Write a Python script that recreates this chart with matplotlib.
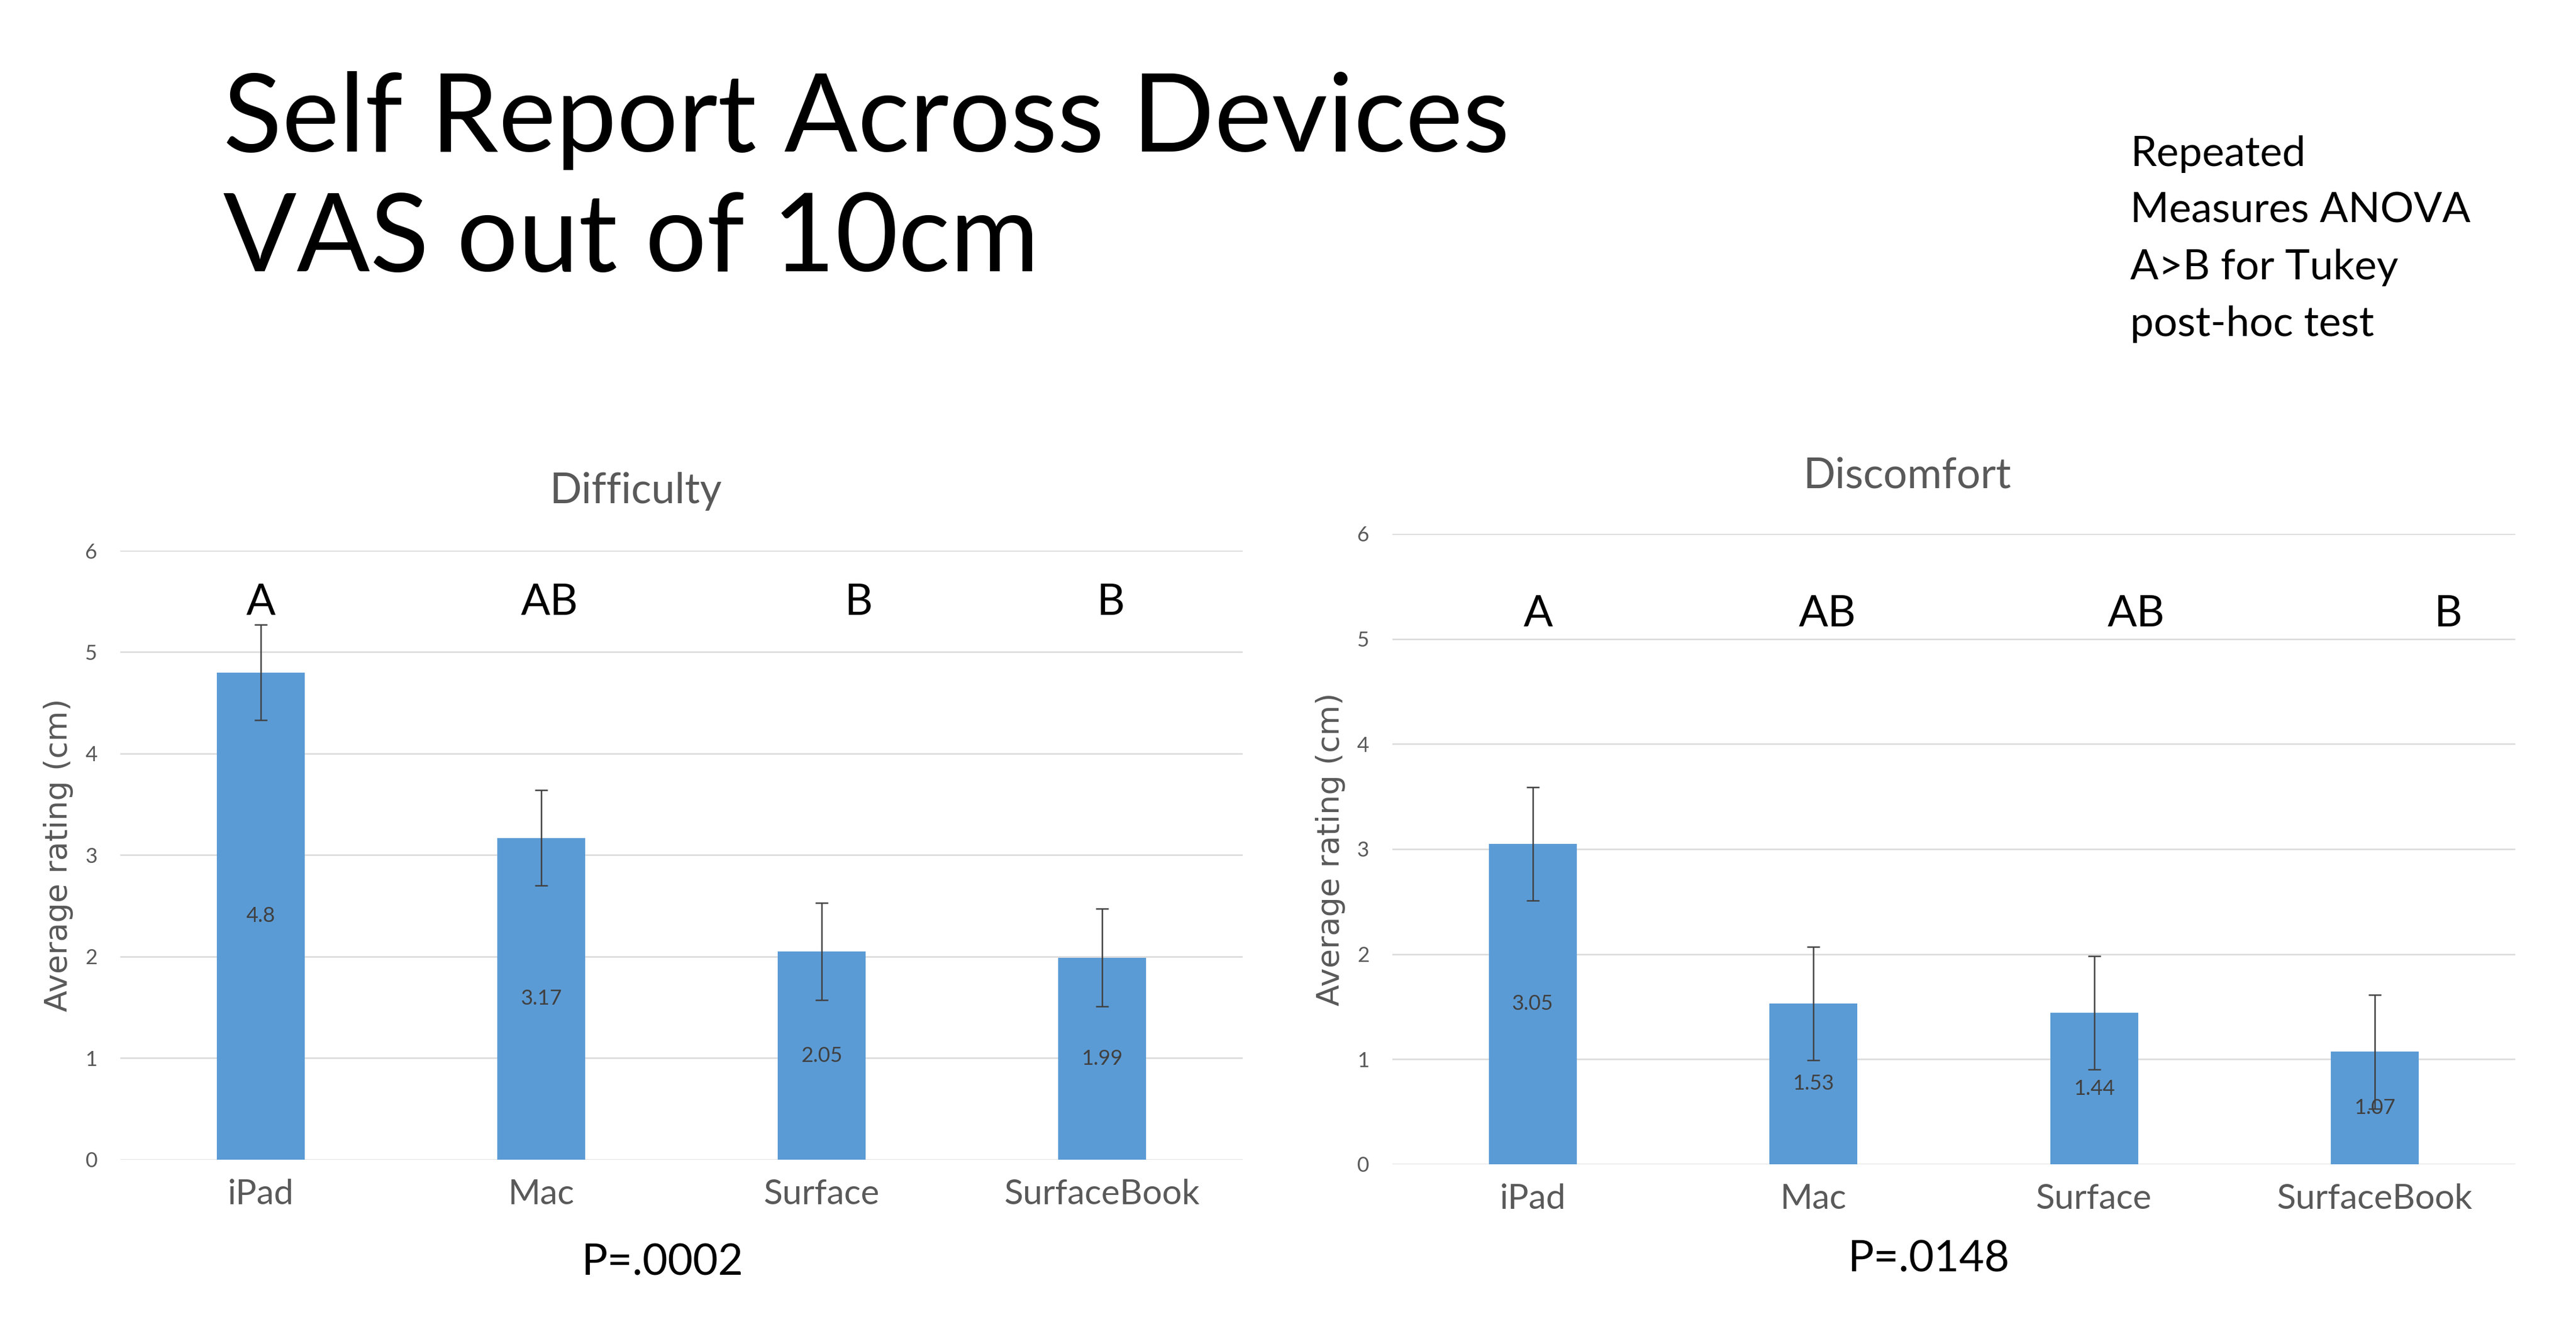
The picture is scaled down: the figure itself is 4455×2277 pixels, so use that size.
import matplotlib
matplotlib.use("Agg")
import matplotlib.pyplot as plt


DEVICES = ["iPad", "Mac", "Surface", "SurfaceBook"]

DIFFICULTY = [4.80, 3.17, 2.05, 1.99]
DIFFICULTY_ERR = [0.47, 0.47, 0.48, 0.48]
DIFFICULTY_GROUPS = ["A", "AB", "B", "B"]

DISCOMFORT = [3.05, 1.53, 1.44, 1.07]
DISCOMFORT_ERR = [0.54, 0.54, 0.54, 0.54]
DISCOMFORT_GROUPS = ["A", "AB", "AB", "B"]

Y_TICKS = [0, 1, 2, 3, 4, 5, 6]

BAR_COLOR = "#5B9BD5"
GRID_COLOR = "#D9D9D9"
GRAY_TEXT = "#595959"
DARK_TEXT = "#404040"
FONT = ["Lato", "DejaVu Sans"]


def draw_panel(ax, values, errors, groups, letter_x_shift, letter_y):
    x = list(range(len(DEVICES)))
    ax.bar(x, values, width=0.313, color=BAR_COLOR, zorder=2)
    ax.errorbar(x, values, yerr=errors, fmt="none", ecolor=DARK_TEXT,
                elinewidth=0.6, capsize=2.6, capthick=0.6, zorder=3)

    for xi, v in zip(x, values):
        ax.text(xi, v / 2, f"{v:g}", ha="center", va="center",
                fontsize=8.7, color=DARK_TEXT, family=FONT, zorder=4)

    for xi, g, dx in zip(x, groups, letter_x_shift):
        ax.text(xi + dx, letter_y, g, ha="center", va="baseline",
                fontsize=18, color="black", family=FONT)

    ax.set_xlim(-0.5, len(DEVICES) - 0.5)
    ax.set_ylim(0, 6)
    ax.set_yticks(Y_TICKS)
    ax.set_xticks(x)
    ax.set_xticklabels(DEVICES, family=FONT, fontsize=14.5, color=GRAY_TEXT)
    ax.set_yticklabels([str(t) for t in Y_TICKS], family=FONT,
                       fontsize=8.7, color=GRAY_TEXT)
    ax.tick_params(axis="both", length=0)
    ax.tick_params(axis="y", pad=9.6)
    ax.tick_params(axis="x", pad=8)
    for spine in ax.spines.values():
        spine.set_visible(False)
    ax.yaxis.grid(True, color=GRID_COLOR, linewidth=0.6, zorder=0)
    ax.set_axisbelow(True)


def main():
    fig = plt.figure(figsize=(14.85, 7.59), dpi=300)

    fig.text(0.0867, 0.885, "Self Report Across Devices", fontsize=45,
             family=FONT, color="black", va="baseline")
    fig.text(0.0867, 0.794, "VAS out of 10cm", fontsize=45,
             family=FONT, color="black", va="baseline")

    note_lines = ["Repeated", "Measures ANOVA", "A>B for Tukey", "post-hoc test"]
    for i, line in enumerate(note_lines):
        fig.text(0.827, 0.874 - i * 0.043, line, fontsize=17.4, family=FONT,
                 color="black", va="baseline")

    # left panel: Difficulty
    ax1 = fig.add_axes([0.0468, 0.1195, 0.4355, 0.4624])
    draw_panel(ax1, DIFFICULTY, DIFFICULTY_ERR, DIFFICULTY_GROUPS,
               [0.0, 0.03, 0.13, 0.03], 5.37)
    # right panel: Discomfort
    ax2 = fig.add_axes([0.5405, 0.116, 0.4359, 0.4787])
    draw_panel(ax2, DISCOMFORT, DISCOMFORT_ERR, DISCOMFORT_GROUPS,
               [0.02, 0.05, 0.15, 0.26], 5.12)

    fig.text(0.2468, 0.618, "Difficulty", ha="center", va="baseline",
             fontsize=17.5, family=FONT, color=GRAY_TEXT)
    fig.text(0.7404, 0.6295, "Discomfort", ha="center", va="baseline",
             fontsize=17.5, family=FONT, color=GRAY_TEXT)

    fig.text(0.0227, 0.1195 + 0.4624 / 2, "Average rating (cm)", rotation=90,
             ha="center", va="center", fontsize=13, family="DejaVu Sans",
             color=GRAY_TEXT)
    fig.text(0.5165, 0.116 + 0.4787 / 2, "Average rating (cm)", rotation=90,
             ha="center", va="center", fontsize=13, family="DejaVu Sans",
             color=GRAY_TEXT)

    fig.text(0.257, 0.032, "P=.0002", ha="center", va="baseline",
             fontsize=18, family=FONT, color="black")
    fig.text(0.7487, 0.0343, "P=.0148", ha="center", va="baseline",
             fontsize=18, family=FONT, color="black")

    fig.savefig("out.png", dpi=300, facecolor="white")
    plt.close(fig)


if __name__ == "__main__":
    main()
